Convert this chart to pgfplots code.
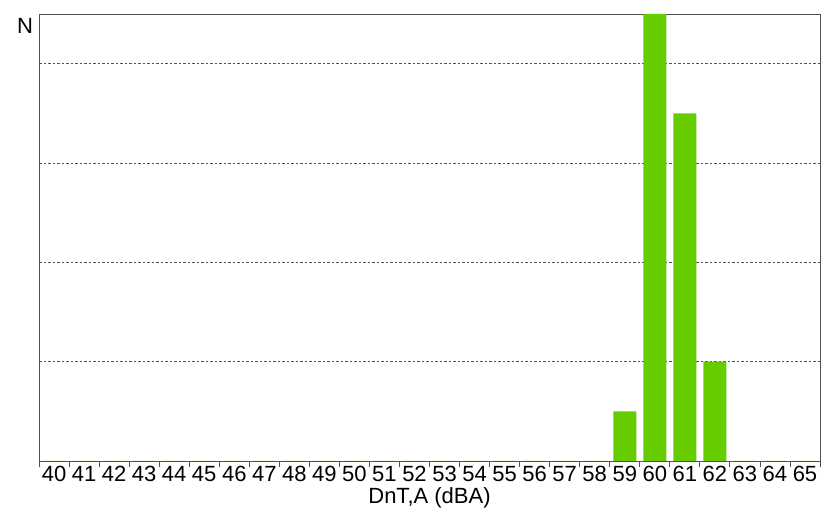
\documentclass[border=0pt]{standalone}
\usepackage{pgfplots}
\pgfplotsset{compat=1.18}
\usetikzlibrary{calc}
\usepackage{fontspec}
\setmainfont{Liberation Sans}
\definecolor{barg}{HTML}{66CC00}
\definecolor{axg}{HTML}{505050}
\begin{document}
\begin{tikzpicture}[font=\fontsize{22}{26}\selectfont]
\begin{axis}[
  name=ax,
  scale only axis,
  width=781pt, height=447pt,
  xmin=39.5, xmax=65.5,
  ymin=0, ymax=9,
  xtick={40,41,...,65},
  xtick pos=bottom,
  major tick length=0pt,
  tick style={draw=axg, line width=0.8pt},
  extra x ticks={39.5,40.5,...,65.5},
  extra x tick labels={},
  extra x tick style={tick align=outside, major tick length=6pt, grid=none, xtick pos=bottom},
  xticklabel style={yshift=-3pt, inner sep=2pt},
  ytick={2,4,6,8},
  yticklabels={},
  ymajorgrids,
  grid style={dash pattern=on 2.5pt off 2pt, draw=axg, line width=0.6pt},
  axis line style={draw=axg, line width=0.8pt},
  /pgf/number format/assume math mode=true,
  ybar, bar width=23pt, bar shift=0pt,
]
\addplot[fill=barg, draw=none] coordinates {
(40,0) (41,0) (42,0) (43,0) (44,0) (45,0) (46,0) (47,0) (48,0) (49,0)
(50,0) (51,0) (52,0) (53,0) (54,0) (55,0) (56,0) (57,0) (58,0)
(59,1) (60,9) (61,7) (62,2) (63,0) (64,0) (65,0)};
\end{axis}
\node[anchor=base, inner sep=0pt] at ($(ax.north west)+(-14pt,-20pt)$) {N};
\node[anchor=base, inner sep=0pt] at ($(ax.south)+(0pt,-43pt)$) {DnT,A (dBA)};
\pgfresetboundingbox
\path[use as bounding box] ($(ax.south west)+(-39pt,-48pt)$) rectangle ($(ax.north east)+(1pt,14pt)$);
\end{tikzpicture}
\end{document}
